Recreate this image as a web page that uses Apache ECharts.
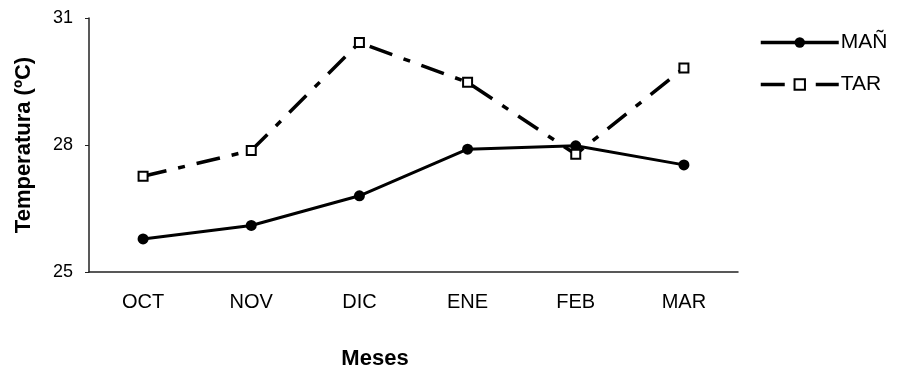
<!DOCTYPE html>
<html><head><meta charset="utf-8">
<script src="https://cdn.jsdelivr.net/npm/echarts@6/dist/echarts.min.js"></script>
<style>html,body{margin:0;padding:0;background:#fff}#c{width:899px;height:376px}</style>
</head><body><div id="c"></div>
<script>
const categories = ['OCT','NOV','DIC','ENE','FEB','MAR'];
const manana = [25.78, 26.1, 26.8, 27.9, 27.98, 27.53];
const tarde = [27.26, 27.87, 30.42, 29.48, 27.78, 29.82];
const yTicks = [25, 28, 31];

const chart = echarts.init(document.getElementById('c'));
const font = '"Liberation Sans", Arial, sans-serif';
chart.setOption({
  animation: false,
  backgroundColor: '#fff',
  title: {
    text: 'Meses', left: 370, top: 343, textAlign: 'center',
    textStyle: {fontFamily: font, fontSize: 22, fontWeight: 'bold', color: '#000'}
  },
  grid: {left: 89, right: 161, top: 18, bottom: 104},
  legend: {
    left: 754, top: 27, orient: 'vertical', itemGap: 21,
    itemWidth: 78, itemHeight: 13,
    lineStyle: {width: 3.5},
    textStyle: {fontFamily: font, fontSize: 21, color: '#000', padding: [0,0,0,-3], letterSpacing: 0.8},
    data: [{name: 'MAÑ'}, {name: 'TAR'}]
  },
  xAxis: {
    type: 'category', data: categories, boundaryGap: true,
    axisLine: {lineStyle: {color: '#222', width: 1.5}},
    axisTick: {inside: true, length: 5, lineStyle: {color: '#222'}},
    axisLabel: {fontFamily: font, fontSize: 20, color: '#000', margin: 20, letterSpacing: -1.5}
  },
  yAxis: {
    type: 'value', min: 25, max: 31, interval: 3,
    name: 'Temperatura (ºC)', nameLocation: 'middle', nameGap: 54, nameRotate: 90,
    nameTextStyle: {fontFamily: font, fontSize: 22, fontWeight: 'bold', color: '#000'},
    axisLine: {show: true, lineStyle: {color: '#222', width: 1.5}},
    axisTick: {show: true, length: 4, lineStyle: {color: '#222'}},
    splitLine: {show: false},
    axisLabel: {fontFamily: font, fontSize: 18, color: '#000', margin: 16,
      formatter: v => yTicks.includes(v) ? String(v) : ''}
  },
  series: [
    {name: 'MAÑ', type: 'line', data: manana, symbol: 'circle', symbolSize: 11,
     itemStyle: {color: '#000'}, lineStyle: {color: '#000', width: 3}},
    {name: 'TAR', type: 'line', data: tarde, symbol: 'emptyRect', symbolSize: 9,
     itemStyle: {color: '#000', borderWidth: 2, borderColor: '#000'},
     lineStyle: {color: '#000', width: 3.5, type: [24, 12, 7, 12]}}
  ]
});
</script></body></html>
